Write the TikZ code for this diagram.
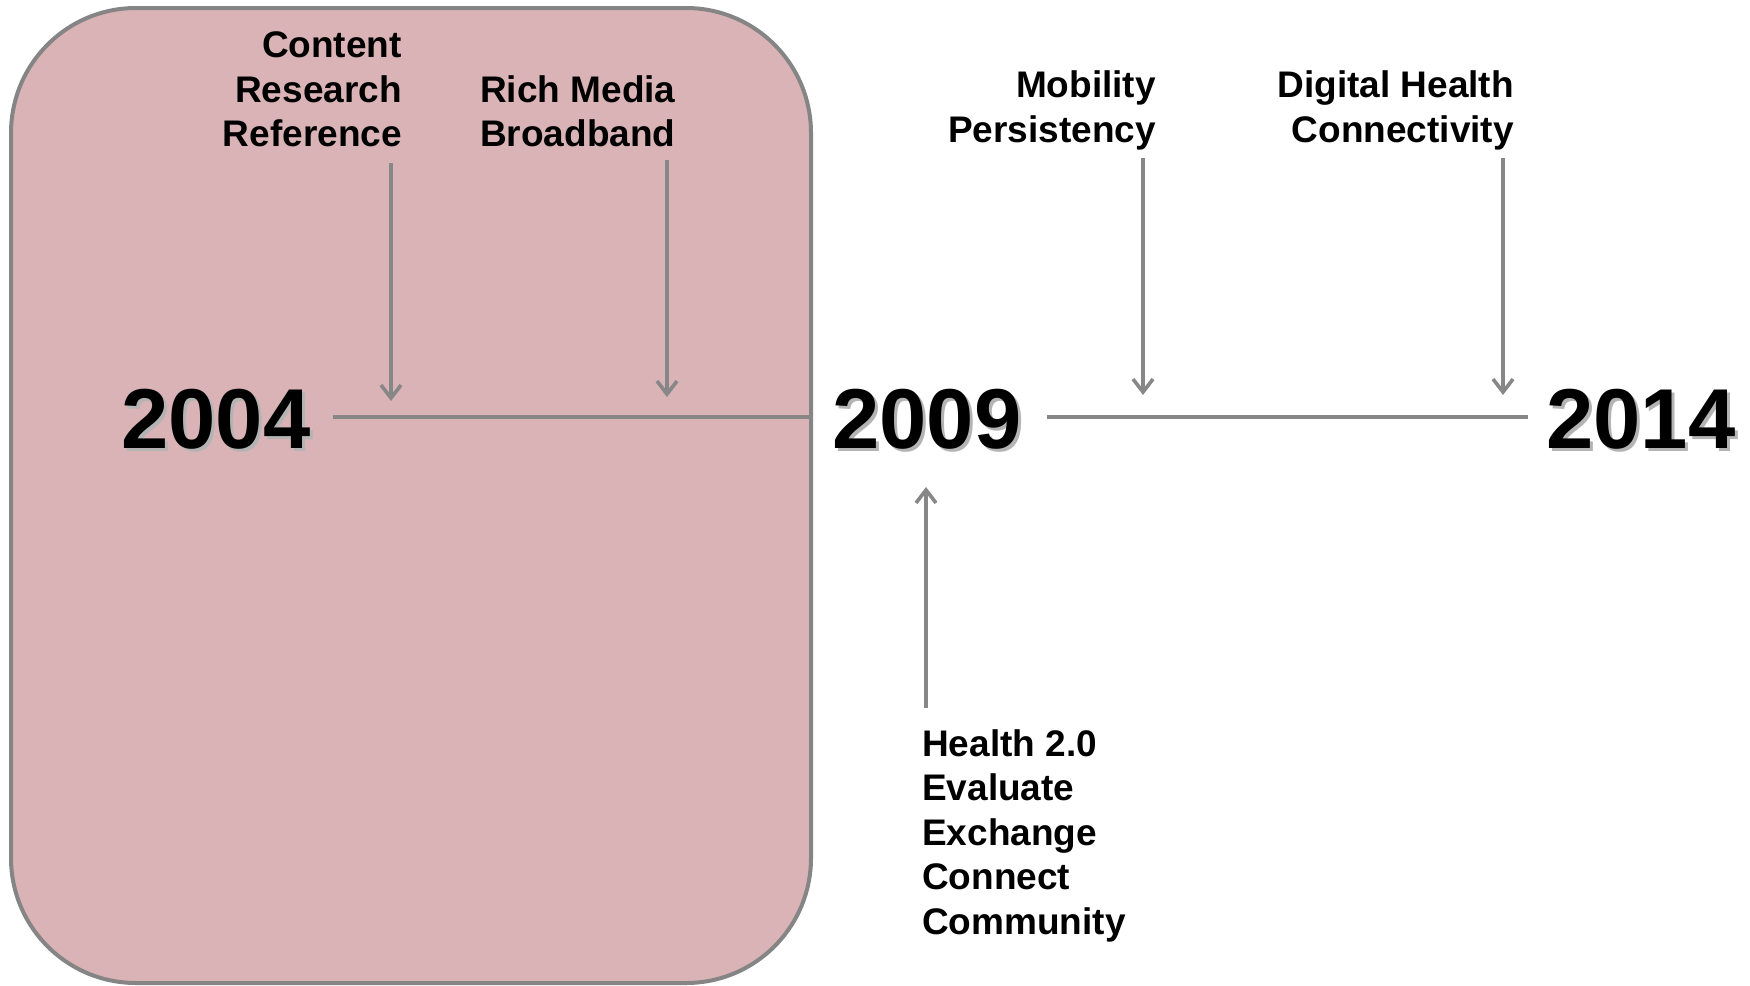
\documentclass[tikz,border=0pt]{standalone}
\usepackage{fontspec}
\setmainfont{Liberation Sans}
\usetikzlibrary{arrows.meta}
\definecolor{boxfill}{HTML}{D9B3B5}
\definecolor{boxline}{HTML}{858585}
\definecolor{arrgray}{HTML}{878787}
\definecolor{shadowgray}{HTML}{B4B4B4}
\tikzset{
  lbl/.style={inner sep=0pt, font=\fontsize{37}{44.6}\selectfont\bfseries, text=black},
  yearlbl/.style={inner sep=0pt, font=\fontsize{85}{90}\selectfont\bfseries, text=black},
  yearshadow/.style={yearlbl, text=shadowgray},
  tline/.style={draw=arrgray, line width=3.6pt},
  arr/.style={draw=arrgray, line width=3.6pt, -{Straight Barb[length=13pt,width=20pt,line width=3.6pt]}},
}
\begin{document}
\begin{tikzpicture}[x=1pt,y=-1pt]
\useasboundingbox (0,0) rectangle (1750,985);
% background box
\path[fill=boxfill, draw=boxline, line width=4pt, rounded corners=125pt] (11,8) rectangle (811,983);
% years
\node[yearshadow, anchor=base] (s2004) at (219,451) {2004};
\node[yearlbl, anchor=base] (y2004) at (216,448) {2004};
\node[yearshadow, anchor=base] (s2009) at (930,451) {2009};
\node[yearlbl, anchor=base] (y2009) at (927,448) {2009};
\node[yearshadow, anchor=base] (s2014) at (1644,451) {2014};
\node[yearlbl, anchor=base] (y2014) at (1641,448) {2014};
\coordinate (tl) at (0,417);
% timeline
\draw[tline] ([xshift=22pt]y2004.east |- tl) -- ([xshift=-19pt]y2009.west |- tl);
\draw[tline] ([xshift=25pt]y2009.east |- tl) -- ([xshift=-18pt]y2014.west |- tl);
% labels (base anchor = baseline of last line)
\node[lbl, align=right, anchor=base east] (cont) at (402,146.7) {Content\\Research\\Reference};
\node[lbl, align=left, anchor=base west] (rich) at (480,146.6) {Rich Media\\Broadband};
\node[lbl, align=right, anchor=base east] (mob) at (1156,142.1) {Mobility\\Persistency};
\node[lbl, align=right, anchor=base east] (dig) at (1514,142.1) {Digital Health\\Connectivity};
\node[lbl, align=left, anchor=base west] (hlth) at (922,934.4) {Health 2.0\\Evaluate\\Exchange\\Connect\\Community};
% arrow end points
\coordinate (a1s) at (391,163); \coordinate (a1e) at (391,401);
\coordinate (a2s) at (667,160); \coordinate (a2e) at (667,397);
\coordinate (a3s) at (1143,158); \coordinate (a3e) at (1143,395);
\coordinate (a4s) at (1503,158); \coordinate (a4e) at (1503,395);
\coordinate (a5s) at (926,708); \coordinate (a5e) at (926,487);
\draw[arr] (a1s) -- (a1e);
\draw[arr] (a2s) -- (a2e);
\draw[arr] (a3s) -- (a3e);
\draw[arr] (a4s) -- (a4e);
\draw[arr] (a5s) -- (a5e);
\end{tikzpicture}
\end{document}
